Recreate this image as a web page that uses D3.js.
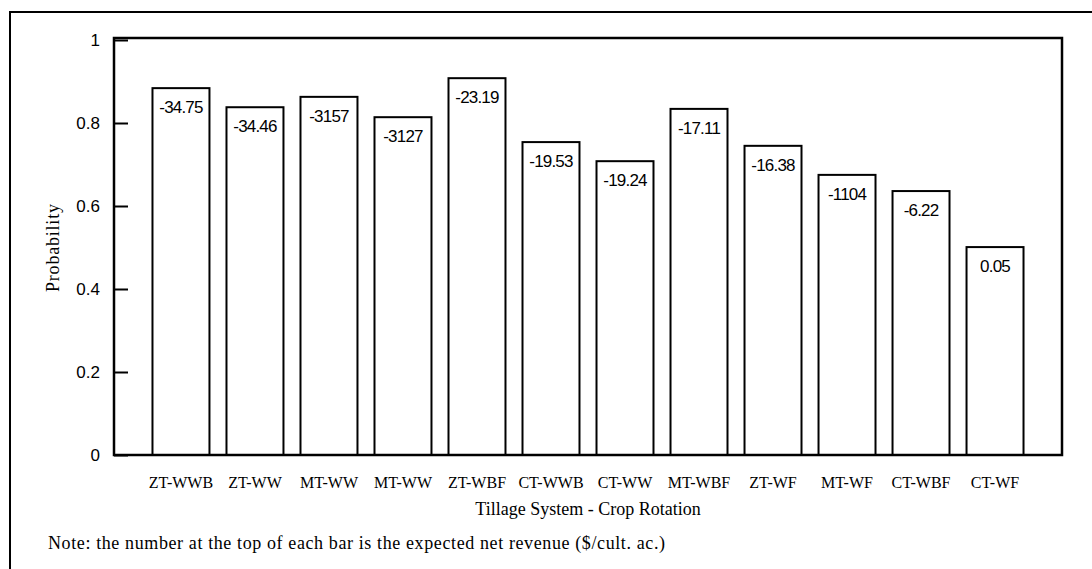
<!DOCTYPE html>
<meta charset="utf-8">
<head>
    <title>Probability by tillage system and crop rotation</title>
    <script src="https://d3js.org/d3.v7.min.js"></script>
    <style>
        body { margin: 0; background: #fff; }
        svg { display: block; }
        .tick text { font-family: "Liberation Sans", Arial, sans-serif; font-size: 17px; fill: #000; }
        .cat-label { font-family: "Liberation Serif", "Times New Roman", serif; font-size: 16px; }
        .val-label { font-family: "Liberation Sans", Arial, sans-serif; font-size: 17px; letter-spacing: -0.8px; }
        .title { font-family: "Liberation Serif", "Times New Roman", serif; font-size: 18px; }
    </style>
</head>
<body>
<div id="chart"></div>
<script>
    // chart data
    var systems = ["ZT-WWB", "ZT-WW", "MT-WW", "MT-WW", "ZT-WBF", "CT-WWB", "CT-WW", "MT-WBF", "ZT-WF", "MT-WF", "CT-WBF", "CT-WF"]
    var probability = [0.884, 0.838, 0.863, 0.814, 0.908, 0.754, 0.708, 0.834, 0.745, 0.675, 0.636, 0.501]
    var revenueLabels = ["-34.75", "-34.46", "-3157", "-3127", "-23.19", "-19.53", "-19.24", "-17.11", "-16.38", "-1104", "-6.22", "0.05"]
    var yTicks = [0, 0.2, 0.4, 0.6, 0.8, 1]

    var width = 1092, height = 569

    var svg = d3.select("#chart")
        .append("svg")
        .attr("width", width)
        .attr("height", height)

    // outer frame (runs off the right and bottom of the page)
    svg.append("rect")
        .attr("x", 10)
        .attr("y", 12)
        .attr("width", width + 20)
        .attr("height", height + 20)
        .attr("fill", "none")
        .attr("stroke", "#000")
        .attr("stroke-width", 2)

    var x = d3.scaleBand()
        .domain(d3.range(systems.length))
        .range([114, 1062])
        .paddingInner(0.23)
        .paddingOuter(0.52)

    var y = d3.scaleLinear()
        .domain([0, 1])
        .range([455, 40])

    // y axis with inward ticks
    var yAxis = svg.append("g")
        .attr("transform", "translate(114,0)")
        .call(d3.axisLeft(y).tickValues(yTicks).tickSize(-14).tickPadding(14).tickFormat(d3.format("")))
    yAxis.select(".domain").remove()
    yAxis.selectAll(".tick line").attr("stroke", "#000").attr("stroke-width", 2)

    // bars
    svg.append("g")
        .selectAll("rect")
        .data(probability)
        .enter()
        .append("rect")
        .attr("x", function (d, i) { return x(i) })
        .attr("y", function (d) { return y(d) })
        .attr("width", x.bandwidth())
        .attr("height", function (d) { return y(0) - y(d) })
        .attr("fill", "#fff")
        .attr("stroke", "#000")
        .attr("stroke-width", 2)

    // revenue labels inside the bars
    svg.append("g")
        .selectAll("text")
        .data(probability)
        .enter()
        .append("text")
        .attr("class", "val-label")
        .attr("x", function (d, i) { return x(i) + x.bandwidth() / 2 })
        .attr("y", function (d) { return y(d) + 25 })
        .attr("text-anchor", "middle")
        .text(function (d, i) { return revenueLabels[i] })

    // plot frame
    svg.append("rect")
        .attr("x", 114)
        .attr("y", 38)
        .attr("width", 1062 - 114)
        .attr("height", 455 - 38)
        .attr("fill", "none")
        .attr("stroke", "#000")
        .attr("stroke-width", 2.5)

    // category labels
    svg.append("g")
        .selectAll("text")
        .data(systems)
        .enter()
        .append("text")
        .attr("class", "cat-label")
        .attr("x", function (d, i) { return x(i) + x.bandwidth() / 2 })
        .attr("y", 488)
        .attr("text-anchor", "middle")
        .text(function (d) { return d })

    svg.append("text")
        .attr("class", "title")
        .attr("x", 588)
        .attr("y", 515)
        .attr("text-anchor", "middle")
        .text("Tillage System - Crop Rotation")

    svg.append("text")
        .attr("class", "title")
        .attr("transform", "translate(59,248) rotate(-90)")
        .attr("text-anchor", "middle")
        .attr("textLength", 88)
        .text("Probability")

    svg.append("text")
        .attr("class", "title")
        .attr("x", 48)
        .attr("y", 549)
        .attr("textLength", 617)
        .text("Note: the number at the top of each bar is the expected net revenue ($/cult. ac.)")
</script>
</body>
